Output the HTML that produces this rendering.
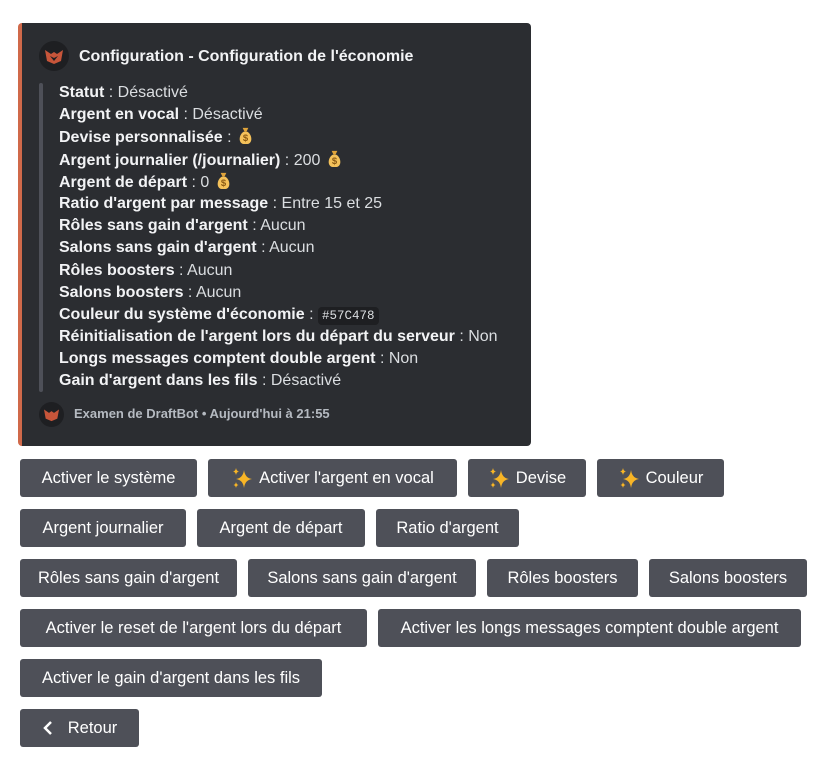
<!DOCTYPE html>
<html><head><meta charset="utf-8"><style>
*{margin:0;padding:0;box-sizing:border-box}
body{width:829px;height:767px;background:#fff;position:relative;font-family:"Liberation Sans",sans-serif;overflow:hidden}
.embed{position:absolute;left:18px;top:23px;width:513px;height:423px;background:#2b2d31;border-radius:4px;border-left:4px solid #d0694a}
.av{position:absolute;border-radius:50%;background:#1e1f22}
.title{position:absolute;left:79px;top:48px;color:#f2f3f5;font-weight:bold;font-size:16px;white-space:nowrap}
.bar{position:absolute;left:39px;top:83px;width:4px;height:309px;background:#4e5058;border-radius:2px}
.lines{position:absolute;left:59px;top:82px;color:#dbdee1;font-size:16px;white-space:nowrap}
.lines div{height:22.2px;line-height:22px}
.lines b{color:#f2f3f5}
.code{background:#1e1f22;font-family:"Liberation Mono",monospace;font-size:12.5px;padding:2px 4px;border-radius:4px;color:#dbdee1}
.foot{position:absolute;left:74px;top:406px;color:#b5bac1;font-size:13px;font-weight:bold;white-space:nowrap}
.btn{position:absolute;height:38px;background:#4e5058;border-radius:3px;color:#fff;font-size:16.5px;display:flex;align-items:center;justify-content:center;white-space:nowrap}
.bag{display:inline-block;vertical-align:-3px}
.sp{margin-right:6px}
</style></head><body>
<div class="embed"></div>
<div class="av" style="left:39px;top:41px;width:30px;height:30px"><svg width="30" height="30" viewBox="0 0 30 30"><path d="M6 9 L12 13 L15 11 L18 13 L24 9 L22 20 L15 23 L8 20Z" fill="#c7553a"/><path d="M11 15 L15 20 L19 15 L15 17Z" fill="#1e1f22"/></svg></div>
<div class="title">Configuration - Configuration de l'économie</div>
<div class="bar"></div>
<div class="lines">
<div><b>Statut</b> : Désactivé</div>
<div><b>Argent en vocal</b> : Désactivé</div>
<div><b>Devise personnalisée</b> : <svg class="bag" width="19" height="19" viewBox="0 0 20 20"><path d="M7 2h6l-2 4h-2z" fill="#e0a43a"/><path d="M8 6h4c5 3 6 12 0 13H8C2 18 3 9 8 6z" fill="#f4c15a"/><text x="10" y="16" font-size="10" text-anchor="middle" fill="#8a5a14" font-family="Liberation Sans" font-weight="bold">$</text></svg></div>
<div><b>Argent journalier (/journalier)</b> : 200 <svg class="bag" width="19" height="19" viewBox="0 0 20 20"><path d="M7 2h6l-2 4h-2z" fill="#e0a43a"/><path d="M8 6h4c5 3 6 12 0 13H8C2 18 3 9 8 6z" fill="#f4c15a"/><text x="10" y="16" font-size="10" text-anchor="middle" fill="#8a5a14" font-family="Liberation Sans" font-weight="bold">$</text></svg></div>
<div><b>Argent de départ</b> : 0 <svg class="bag" width="19" height="19" viewBox="0 0 20 20"><path d="M7 2h6l-2 4h-2z" fill="#e0a43a"/><path d="M8 6h4c5 3 6 12 0 13H8C2 18 3 9 8 6z" fill="#f4c15a"/><text x="10" y="16" font-size="10" text-anchor="middle" fill="#8a5a14" font-family="Liberation Sans" font-weight="bold">$</text></svg></div>
<div><b>Ratio d'argent par message</b> : Entre 15 et 25</div>
<div><b>Rôles sans gain d'argent</b> : Aucun</div>
<div><b>Salons sans gain d'argent</b> : Aucun</div>
<div><b>Rôles boosters</b> : Aucun</div>
<div><b>Salons boosters</b> : Aucun</div>
<div><b>Couleur du système d'économie</b> : <span class="code">#57C478</span></div>
<div><b>Réinitialisation de l'argent lors du départ du serveur</b> : Non</div>
<div><b>Longs messages comptent double argent</b> : Non</div>
<div><b>Gain d'argent dans les fils</b> : Désactivé</div>
</div>
<div class="av" style="left:39px;top:402px;width:25px;height:25px"><svg width="25" height="25" viewBox="0 0 30 30"><path d="M6 9 L12 13 L15 11 L18 13 L24 9 L22 20 L15 23 L8 20Z" fill="#c7553a"/></svg></div>
<div class="foot">Examen de DraftBot • Aujourd'hui à 21:55</div>

<div class="btn" style="left:20px;top:459px;width:177px">Activer le système</div>
<div class="btn" style="left:208px;top:459px;width:249px"><svg class="sp" width="22" height="22" viewBox="0 0 22 22"><path d="M13 3 Q14 11 21 12 Q14 13 13 21 Q12 13 5 12 Q12 11 13 3Z" fill="#f8b526"/><path d="M5 1 Q5.5 4 8 4.5 Q5.5 5 5 8 Q4.5 5 2 4.5 Q4.5 4 5 1Z" fill="#f8b526"/><path d="M5 15 Q5.4 17.5 7.5 18 Q5.4 18.5 5 21 Q4.6 18.5 2.5 18 Q4.6 17.5 5 15Z" fill="#f8b526"/></svg>Activer l'argent en vocal</div>
<div class="btn" style="left:468px;top:459px;width:118px"><svg class="sp" width="22" height="22" viewBox="0 0 22 22"><path d="M13 3 Q14 11 21 12 Q14 13 13 21 Q12 13 5 12 Q12 11 13 3Z" fill="#f8b526"/><path d="M5 1 Q5.5 4 8 4.5 Q5.5 5 5 8 Q4.5 5 2 4.5 Q4.5 4 5 1Z" fill="#f8b526"/><path d="M5 15 Q5.4 17.5 7.5 18 Q5.4 18.5 5 21 Q4.6 18.5 2.5 18 Q4.6 17.5 5 15Z" fill="#f8b526"/></svg>Devise</div>
<div class="btn" style="left:597px;top:459px;width:127px"><svg class="sp" width="22" height="22" viewBox="0 0 22 22"><path d="M13 3 Q14 11 21 12 Q14 13 13 21 Q12 13 5 12 Q12 11 13 3Z" fill="#f8b526"/><path d="M5 1 Q5.5 4 8 4.5 Q5.5 5 5 8 Q4.5 5 2 4.5 Q4.5 4 5 1Z" fill="#f8b526"/><path d="M5 15 Q5.4 17.5 7.5 18 Q5.4 18.5 5 21 Q4.6 18.5 2.5 18 Q4.6 17.5 5 15Z" fill="#f8b526"/></svg>Couleur</div>

<div class="btn" style="left:20px;top:509px;width:166px">Argent journalier</div>
<div class="btn" style="left:197px;top:509px;width:168px">Argent de départ</div>
<div class="btn" style="left:376px;top:509px;width:143px">Ratio d'argent</div>

<div class="btn" style="left:20px;top:559px;width:217px">Rôles sans gain d'argent</div>
<div class="btn" style="left:248px;top:559px;width:228px">Salons sans gain d'argent</div>
<div class="btn" style="left:487px;top:559px;width:151px">Rôles boosters</div>
<div class="btn" style="left:649px;top:559px;width:158px">Salons boosters</div>

<div class="btn" style="left:20px;top:609px;width:347px">Activer le reset de l'argent lors du départ</div>
<div class="btn" style="left:378px;top:609px;width:423px">Activer les longs messages comptent double argent</div>

<div class="btn" style="left:20px;top:659px;width:302px">Activer le gain d'argent dans les fils</div>

<div class="btn" style="left:20px;top:709px;width:119px"><svg width="12" height="16" viewBox="0 0 12 16" style="margin-right:14px"><path d="M9 2 L3 8 L9 14" stroke="#fff" stroke-width="2.5" fill="none"/></svg>Retour</div>
</body></html>
